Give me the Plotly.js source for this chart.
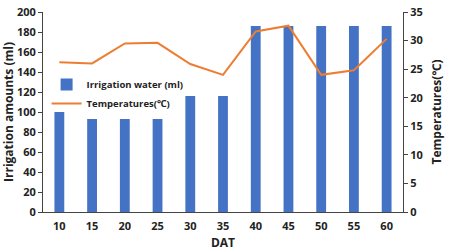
<!DOCTYPE html>
<html><head><meta charset="utf-8">
<script src="https://cdn.plot.ly/plotly-3.0.1.min.js"></script>
<style>html,body{margin:0;padding:0;background:#fff}#c{width:450px;height:251px}</style>
</head><body><div id="c"></div>
<script>
const dat = ["10","15","20","25","30","35","40","45","50","55","60"];
const irrigation = [100,93,93,93,116,116,186,186,186,186,186];
const temperature = [26.2,26.0,29.5,29.6,25.9,24.0,31.6,32.6,24.0,24.8,30.3];

const tf = {family:'Open Sans, Noto Sans, sans-serif', size:11, weight:'bold', color:'#222'};
const titf = {family:'Open Sans, Noto Sans, sans-serif', size:12, weight:'bold', color:'#222'};

const data = [
  {type:'bar', x:dat, y:irrigation, name:'Irrigation water (ml)', marker:{color:'#4472C4'}, width:0.3, yaxis:'y'},
  {type:'scatter', mode:'lines', x:dat, y:temperature, name:'Temperatures(℃)', line:{color:'#ED7D31', width:2}, yaxis:'y2'}
];
const layout = {
  width:450, height:251,
  margin:{l:43, r:47, t:12, b:39},
  paper_bgcolor:'#fff', plot_bgcolor:'#fff',
  showlegend:true,
  legend:{x:0.01, y:0.71, xanchor:'left', yanchor:'top', bgcolor:'rgba(0,0,0,0)',
    font:{family:'Open Sans, Noto Sans, sans-serif', size:9.5, weight:'bold', color:'#222'}, tracegroupgap:5},
  xaxis:{type:'category', range:[-0.5,10.5], showline:true, linecolor:'#444', linewidth:1,
    ticks:'outside', ticklen:4, tickcolor:'rgba(0,0,0,0)', tickfont:tf, showgrid:false, zeroline:false,
    title:{text:'DAT', font:titf, standoff:6}},
  yaxis:{range:[0,200], dtick:20, showline:true, linecolor:'#444', linewidth:1, ticks:'outside', ticklen:4, tickcolor:'#444',
    tickfont:tf, showgrid:false, zeroline:false,
    title:{text:'Irrigation amounts (ml)', font:titf, standoff:3}},
  yaxis2:{range:[0,35], dtick:5, overlaying:'y', side:'right', showline:true, linecolor:'#444', linewidth:1, ticks:'outside', ticklen:4, tickcolor:'#444',
    tickfont:tf, showgrid:false, zeroline:false,
    title:{text:'Temperatures(℃)', font:titf, standoff:10}}
};
Plotly.newPlot('c', data, layout, {displayModeBar:false, staticPlot:true});
</script></body></html>
